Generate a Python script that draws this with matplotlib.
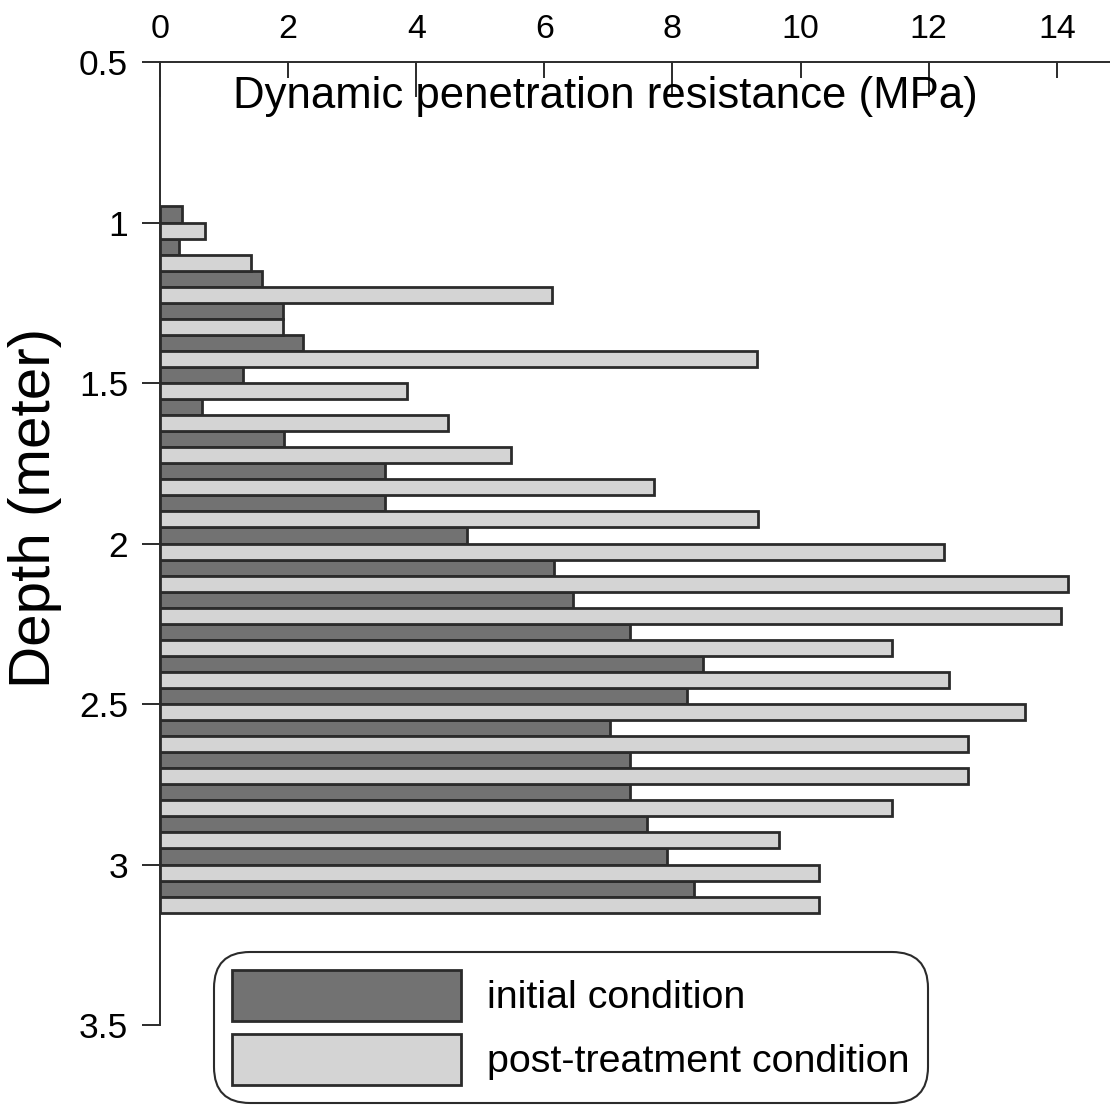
import matplotlib
matplotlib.use("Agg")
import matplotlib.pyplot as plt
from matplotlib.ticker import MultipleLocator, FormatStrFormatter

plt.rcParams['font.family'] = ['Liberation Sans', 'DejaVu Sans']

# depth (m) at the boundary between each pair of bars
depth = [1.0, 1.1, 1.2, 1.3, 1.4, 1.5, 1.6, 1.7, 1.8, 1.9, 2.0,
         2.1, 2.2, 2.3, 2.4, 2.5, 2.6, 2.7, 2.8, 2.9, 3.0, 3.1]
# dynamic penetration resistance (MPa)
initial = [0.34, 0.30, 1.59, 1.92, 2.24, 1.29, 0.65, 1.93, 3.52, 3.52, 4.80,
           6.15, 6.45, 7.34, 8.48, 8.22, 7.03, 7.34, 7.34, 7.60, 7.91, 8.34]
post = [0.71, 1.42, 6.12, 1.92, 9.32, 3.85, 4.49, 5.48, 7.71, 9.34, 12.24,
        14.18, 14.07, 11.43, 12.31, 13.50, 12.62, 12.62, 11.43, 9.67, 10.28, 10.28]

dark = '#727272'
light = '#d4d4d4'
edge = '#2b2b2b'
bar_h = 0.05

fig = plt.figure(figsize=(11.1, 11.08), dpi=100)
ax = fig.add_axes([160 / 1110, 1 - 1025 / 1108, 950 / 1110, 963 / 1108])

y_init = [d - bar_h / 2 for d in depth]
y_post = [d + bar_h / 2 for d in depth]
b1 = ax.barh(y_init, initial, height=bar_h, color=dark, edgecolor=edge,
             linewidth=2.0, label='initial condition')
b2 = ax.barh(y_post, post, height=bar_h, color=light, edgecolor=edge,
             linewidth=2.0, label='post-treatment condition')

ax.set_xlim(0, 14.83)
ax.set_ylim(3.5, 0.5)

for s in ['right', 'bottom']:
    ax.spines[s].set_visible(False)
for s in ['top', 'left']:
    ax.spines[s].set_linewidth(1.4)
    ax.spines[s].set_color(edge)

ax.xaxis.tick_top()
ax.xaxis.set_major_locator(MultipleLocator(4))
ax.xaxis.set_minor_locator(MultipleLocator(2))
ax.xaxis.set_major_formatter(FormatStrFormatter('%g'))
ax.xaxis.set_minor_formatter(FormatStrFormatter('%g'))
ax.tick_params(axis='x', which='major', direction='in', length=25, width=1.4,
               labelsize=24.5, pad=12, color=edge, top=True, bottom=False)
ax.tick_params(axis='x', which='minor', direction='in', length=11.5, width=1.4,
               labelsize=24.5, pad=12, color=edge, top=True, bottom=False)

ax.yaxis.set_major_locator(MultipleLocator(0.5))
ax.yaxis.set_major_formatter(FormatStrFormatter('%g'))
ax.tick_params(axis='y', direction='out', length=13, width=1.4, labelsize=25.5,
               pad=10, color=edge)

ax.set_xlabel('Dynamic penetration resistance (MPa)', fontsize=31.5, va='center')
ax.xaxis.set_label_coords(0.469, 0.9637)
ax.set_ylabel('Depth (meter)', fontsize=42, va='center')
ax.yaxis.set_label_coords(-0.132, 0.537)

leg = ax.legend(handles=[b1, b2], loc='upper left',
                bbox_to_anchor=(214 / 1110, 1 - 952 / 1108),
                bbox_transform=fig.transFigure, fontsize=28.4,
                handlelength=5.8, handleheight=1.6, handletextpad=0.66,
                labelspacing=0.33, borderpad=0.46, borderaxespad=0,
                frameon=True, fancybox=True, framealpha=1)
frame = leg.get_frame()
frame.set_edgecolor(edge)
frame.set_linewidth(1.5)
frame.set_boxstyle('round,pad=0,rounding_size=0.9')

fig.savefig('out.png', dpi=100)
